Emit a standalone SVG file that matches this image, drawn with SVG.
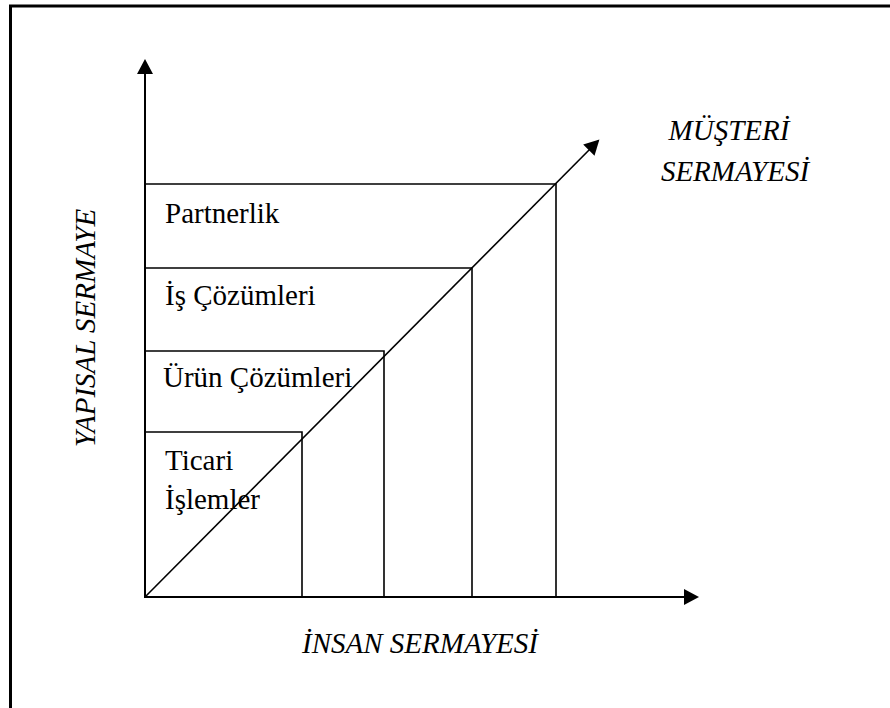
<svg xmlns="http://www.w3.org/2000/svg" width="890" height="708" viewBox="0 0 890 708">
  <defs>
    <marker id="arrow" markerUnits="userSpaceOnUse" markerWidth="16" markerHeight="16" viewBox="0 0 15 16" refX="13" refY="8" orient="auto">
      <path d="M0,0 L15,8 L0,16 z" fill="#000"/>
    </marker>
    <style>
      .frame { fill: none; stroke: #000; stroke-width: 3; }
      .box { fill: none; stroke: #000; stroke-width: 1.6; }
      .axis { fill: none; stroke: #000; stroke-width: 2; marker-end: url(#arrow); }
      .diag { fill: none; stroke: #000; stroke-width: 1.6; marker-end: url(#arrow); }
      .lbl { font-family: "Liberation Serif", "Times New Roman", serif; font-size: 29px; fill: #000; }
      .axlbl { font-family: "Liberation Serif", "Times New Roman", serif; font-size: 29px; font-style: italic; fill: #000; }
    </style>
  </defs>
  <rect width="890" height="708" fill="#fff"/>
  <path class="frame" d="M10.5,712 V6 H894"/>

  <g id="partnerlik">
    <path class="box" d="M145,184 H556 V597"/>
    <text class="lbl" x="165" y="223">Partnerlik</text>
  </g>
  <g id="is-cozumleri">
    <path class="box" d="M145,268 H472 V597"/>
    <text class="lbl" x="165" y="305">İş Çözümleri</text>
  </g>
  <g id="urun-cozumleri">
    <path class="box" d="M145,351 H384 V597"/>
    <text class="lbl" x="163" y="387">Ürün Çözümleri</text>
  </g>
  <g id="ticari-islemler">
    <path class="box" d="M145,432 H302 V597"/>
    <text class="lbl" x="165" y="470">Ticari</text>
    <text class="lbl" x="165" y="509">İşlemler</text>
  </g>

  <g id="connectors">
    <line class="axis" x1="145" y1="597" x2="145" y2="61"/>
    <line class="axis" x1="144" y1="597" x2="697" y2="597"/>
    <line class="diag" x1="145" y1="597" x2="598" y2="141"/>
  </g>

  <g id="axis-labels">
    <text class="axlbl" x="729" y="140" text-anchor="middle">MÜŞTERİ</text>
    <text class="axlbl" x="735" y="181" text-anchor="middle">SERMAYESİ</text>
    <text class="axlbl" x="420" y="653" text-anchor="middle">İNSAN SERMAYESİ</text>
    <text class="axlbl" transform="translate(95,328) rotate(-90)" text-anchor="middle">YAPISAL SERMAYE</text>
  </g>
</svg>
